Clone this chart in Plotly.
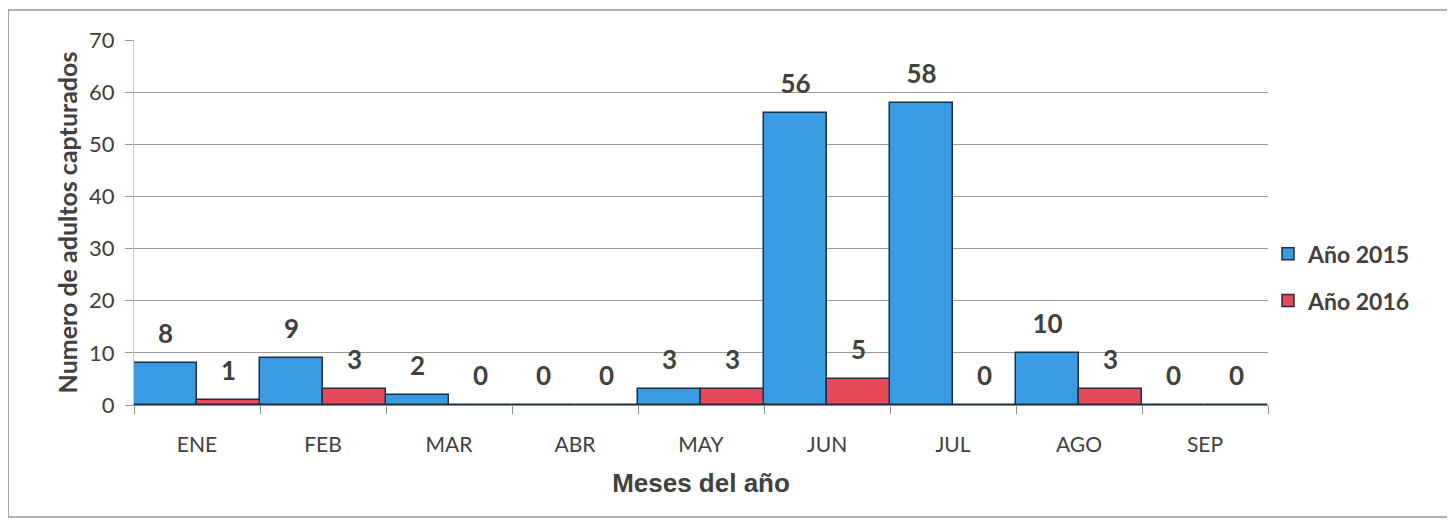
import plotly.graph_objects as go

meses = ["ENE", "FEB", "MAR", "ABR", "MAY", "JUN", "JUL", "AGO", "SEP"]
anio_2015 = [8, 9, 2, 0, 3, 56, 58, 10, 0]
anio_2016 = [1, 3, 0, 0, 3, 5, 0, 3, 0]

AZUL = "#3B9BE2"
ROJO = "#E5495A"
BORDE = "#1E2F45"
TEXTO = "#404040"
CALIBRI = "Lato, 'Open Sans', sans-serif"

series = [("Año 2015", anio_2015, AZUL, "a"), ("Año 2016", anio_2016, ROJO, "b")]

fig = go.Figure()
for nombre, valores, color, grupo in series:
    fig.add_trace(go.Bar(
        x=meses,
        y=valores,
        name=nombre,
        legendgroup=grupo,
        offsetgroup=grupo,
        marker=dict(color=color, line=dict(color=BORDE, width=1.5)),
    ))
# etiquetas de datos algo separadas de la barra, como en Excel
for nombre, valores, color, grupo in series:
    fig.add_trace(go.Scatter(
        x=meses,
        y=valores,
        mode="markers+text",
        offsetgroup=grupo,
        marker=dict(size=20, opacity=0),
        text=[str(v) for v in valores],
        textposition="top center",
        cliponaxis=False,
        textfont=dict(family=CALIBRI, size=26, color=TEXTO, weight="bold"),
        showlegend=False,
        hoverinfo="skip",
    ))

fig.update_layout(
    width=1455,
    height=527,
    barmode="group",
    bargap=0,
    bargroupgap=0,
    scattermode="group",
    scattergap=0,
    margin=dict(l=126, r=195, t=32, b=130),
    paper_bgcolor="white",
    plot_bgcolor="white",
    font=dict(family=CALIBRI, color=TEXTO, size=18),
    showlegend=True,
    legend=dict(
        x=1.0, y=0.35, xanchor="left", yanchor="middle",
        traceorder="grouped",
        font=dict(family=CALIBRI, size=23, color=TEXTO, weight="bold"),
        tracegroupgap=14,
    ),
    shapes=[dict(
        type="rect", xref="paper", yref="paper",
        x0=-0.111, x1=1.2, y0=-0.307, y1=1.082,
        line=dict(color="#9a9a9a", width=1.5),
    )],
)
fig.update_xaxes(
    automargin=False,
    showline=True, linecolor="#8c8c8c", linewidth=1,
    ticks="outside", tickson="boundaries", ticklen=8, tickcolor="#8c8c8c",
    ticklabelstandoff=21,
    tickfont=dict(family=CALIBRI, size=21, color=TEXTO),
    title=dict(text="Meses del año", font=dict(family="Liberation Sans, Arial", size=26, color=TEXTO, weight="bold"), standoff=18),
)
fig.update_yaxes(
    automargin=False,
    range=[0, 70], dtick=10,
    showgrid=True, gridcolor="#9a9a9a", gridwidth=1,
    showline=True, linecolor="#c8c8c8",
    ticks="outside", ticklen=8, tickcolor="#9a9a9a",
    ticklabelstandoff=6,
    zeroline=False,
    tickfont=dict(family=CALIBRI, size=22, color=TEXTO),
    title=dict(text="Numero de adultos capturados", font=dict(family=CALIBRI, size=25, color=TEXTO, weight="bold"), standoff=4),
)

fig.write_html("out.html")
